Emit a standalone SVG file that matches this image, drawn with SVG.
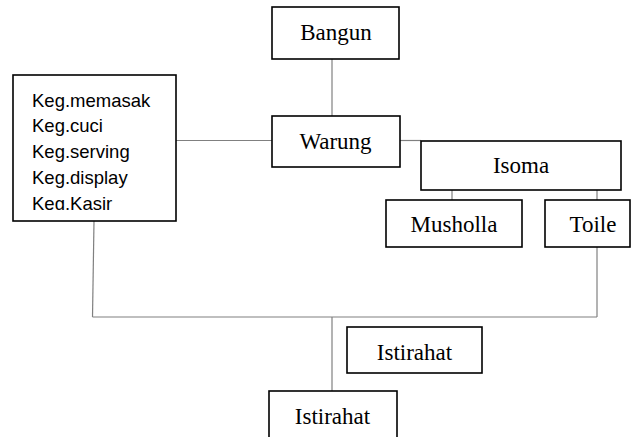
<svg xmlns="http://www.w3.org/2000/svg" width="631" height="437" viewBox="0 0 631 437">
  <style>
    .box { fill: #ffffff; stroke: #000000; stroke-width: 1.6; }
    .lbl { font-family: "Liberation Serif", "Times New Roman", serif; font-size: 23px; fill: #000000; text-anchor: middle; }
    .list { font-family: "Liberation Sans", Arial, sans-serif; font-size: 18.5px; fill: #000000; }
    .conn { fill: none; stroke: #808080; stroke-width: 1.2; }
  </style>
  <defs>
    <clipPath id="kegClip">
      <rect x="14" y="76" width="161" height="134"/>
    </clipPath>
  </defs>
  <rect width="631" height="437" fill="#ffffff"/>

  <!-- connectors -->
  <g id="connectors">
    <line class="conn" x1="332" y1="59" x2="332" y2="116"/>
    <line class="conn" x1="176" y1="140.5" x2="272" y2="140.5"/>
    <line class="conn" x1="400" y1="140.5" x2="421" y2="140.5"/>
    <line class="conn" x1="452" y1="190" x2="452" y2="200"/>
    <line class="conn" x1="597" y1="190" x2="597" y2="200"/>
    <line class="conn" x1="597" y1="247" x2="597" y2="317"/>
    <line class="conn" x1="94" y1="221" x2="92.5" y2="317"/>
    <line class="conn" x1="92.5" y1="317" x2="597" y2="317"/>
    <line class="conn" x1="332" y1="317" x2="332" y2="391"/>
  </g>

  <g id="bangun">
    <rect class="box" x="272" y="7" width="127" height="52"/>
    <text class="lbl" x="336" y="39.5">Bangun</text>
  </g>

  <g id="warung">
    <rect class="box" x="272" y="116" width="128" height="51"/>
    <text class="lbl" x="335.5" y="148.5">Warung</text>
  </g>

  <g id="kegiatan">
    <rect class="box" x="13" y="75" width="163" height="146"/>
    <g clip-path="url(#kegClip)">
      <text class="list" x="32" y="106.5">Keg.memasak</text>
      <text class="list" x="32" y="132.3">Keg.cuci</text>
      <text class="list" x="32" y="158">Keg.serving</text>
      <text class="list" x="32" y="183.8">Keg.display</text>
      <text class="list" x="32" y="209.5">Keg.Kasir</text>
    </g>
  </g>

  <g id="isoma">
    <rect class="box" x="421" y="141" width="200" height="49"/>
    <text class="lbl" x="521" y="173.3">Isoma</text>
  </g>

  <g id="musholla">
    <rect class="box" x="386" y="200" width="136" height="47"/>
    <text class="lbl" x="454" y="231.7">Musholla</text>
  </g>

  <g id="toile">
    <rect class="box" x="545" y="200" width="85" height="47"/>
    <text class="lbl" x="593" y="231.7">Toile</text>
  </g>

  <g id="istirahat-1">
    <rect class="box" x="347" y="327" width="135" height="46"/>
    <text class="lbl" x="414.5" y="359.5">Istirahat</text>
  </g>

  <g id="istirahat-2">
    <rect class="box" x="269" y="391" width="128" height="60"/>
    <text class="lbl" x="332.5" y="424">Istirahat</text>
  </g>
</svg>
